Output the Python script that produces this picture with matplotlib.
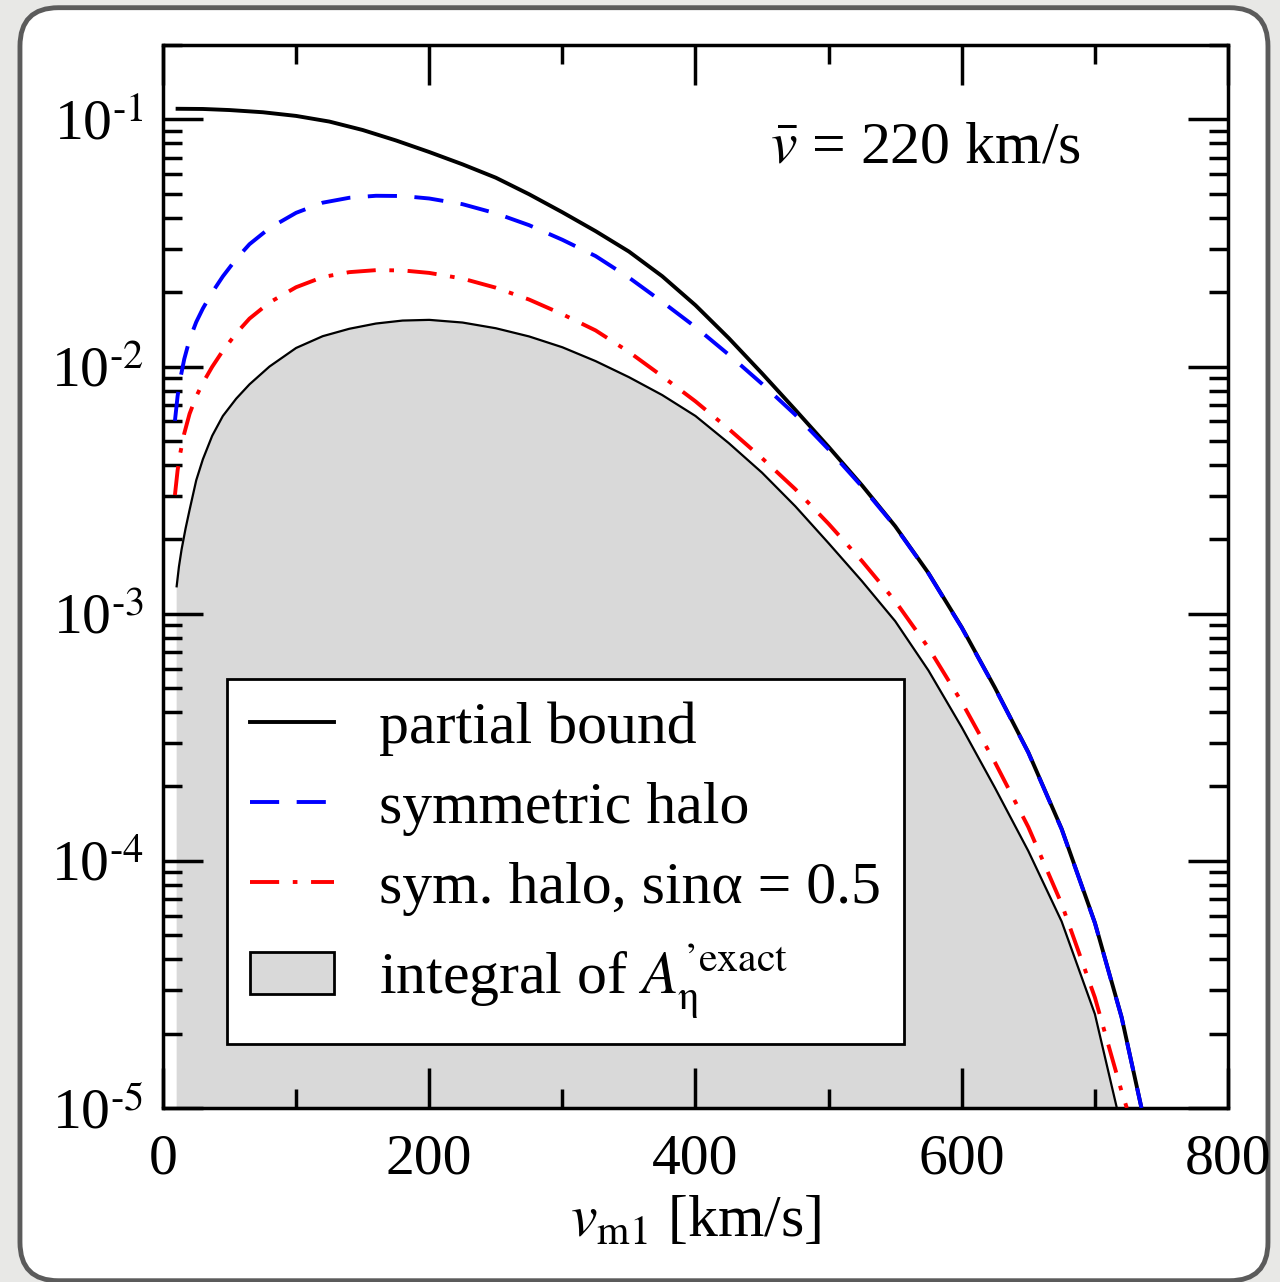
import math
import matplotlib
matplotlib.use("Agg")
import matplotlib.pyplot as plt
from matplotlib.patches import FancyBboxPatch, Patch
from matplotlib.lines import Line2D
from matplotlib.ticker import LogLocator, MultipleLocator, FuncFormatter, NullFormatter

plt.rcParams['font.family'] = ['Liberation Serif', 'DejaVu Serif']
plt.rcParams['mathtext.fontset'] = 'stix'

# --- data (v in km/s) ---
v_partial = [11, 30, 50, 75, 100, 125, 150, 175, 200, 225, 250, 275, 300, 325, 350, 375, 400, 425,
             450, 475, 500, 525, 550, 575, 600, 625, 650, 675, 700, 720, 735]
y_partial = [0.1104, 0.1102, 0.1091, 0.1069, 0.1033, 0.0980, 0.0906, 0.0822, 0.0738, 0.0658, 0.0581,
             0.0498, 0.0421, 0.0353, 0.0292, 0.0232, 0.0177, 0.01303, 0.00938, 0.00668, 0.00473,
             0.00331, 0.00226, 0.00146, 8.81e-4, 5.01e-4, 2.75e-4, 1.349e-4, 5.62e-5, 2.34e-5, 1.0e-5]

v_sym = [9, 11, 13, 16, 20, 25, 30, 37, 45, 55, 65, 80, 100, 120, 140, 160, 180, 200, 225, 250, 275,
         300, 325, 350, 375, 400, 425, 450, 475, 500, 525, 550, 575, 600, 625, 650, 675, 700, 720, 735]
y_sym = [0.00603, 0.00759, 0.00891, 0.01072, 0.01288, 0.01514, 0.01718, 0.01995, 0.02317, 0.02723,
         0.03126, 0.03631, 0.04188, 0.04603, 0.04819, 0.04909, 0.04898, 0.04786, 0.04539, 0.04169,
         0.03733, 0.03258, 0.02799, 0.02291, 0.01828, 0.01445, 0.01117, 0.00851, 0.00638, 0.00462,
         0.00327, 0.00225, 0.001455, 8.77e-4, 4.99e-4, 2.74e-4, 1.343e-4, 5.60e-5, 2.33e-5, 1.0e-5]

v_alpha = [9, 11, 13, 16, 20, 25, 30, 37, 45, 55, 65, 80, 100, 120, 140, 160, 180, 200, 225, 250, 275,
           300, 325, 350, 375, 400, 425, 450, 475, 500, 525, 550, 575, 600, 625, 650, 675, 700, 720, 724]
y_alpha = [0.00302, 0.0038, 0.00446, 0.00536, 0.00644, 0.00757, 0.00859, 0.00998, 0.01159, 0.01362,
           0.01563, 0.01816, 0.02094, 0.02302, 0.0241, 0.02455, 0.02449, 0.02393, 0.0227, 0.02085,
           0.01867, 0.01629, 0.0140, 0.01146, 0.00914, 0.00723, 0.00559, 0.00426, 0.00319, 0.00231,
           0.001635, 0.001125, 7.28e-4, 4.39e-4, 2.5e-4, 1.37e-4, 6.7e-5, 2.8e-5, 1.17e-5, 1.0e-5]

v_exact = [10.3, 12, 14, 17, 20, 25, 30, 37, 45, 55, 65, 80, 100, 120, 140, 160, 180, 200, 225, 250,
           275, 300, 325, 350, 375, 400, 425, 450, 475, 500, 525, 550, 575, 600, 625, 650, 675, 700, 716.5]
y_exact = [0.001291, 0.001549, 0.00182, 0.002213, 0.00263, 0.003467, 0.004217, 0.005248, 0.00631,
           0.007413, 0.008472, 0.0100, 0.01189, 0.01327, 0.01422, 0.01493, 0.01535, 0.01545, 0.01507,
           0.01429, 0.01324, 0.01197, 0.01052, 0.00906, 0.00767, 0.00631, 0.0049, 0.00372, 0.00272,
           0.001928, 0.001355, 9.33e-4, 5.89e-4, 3.47e-4, 1.972e-4, 1.096e-4, 5.69e-5, 2.4e-5, 1.0e-5]

labels = ['partial bound', 'symmetric halo', 'sym. halo, sinα = 0.5',
          r'integral of $A_{\mathrm{\eta}}^{\mathrm{’exact}}$']

FS = 43
TICK_FS = 41.5
LW = 2.8
FILL = '#d9d9d9'

fig = plt.figure(figsize=(12.8, 12.82), dpi=100)
fig.patch.set_facecolor('#e8e8e6')
frame = FancyBboxPatch((0.0156, 0.001), 0.975, 0.993,
                       boxstyle='round,pad=0,rounding_size=0.03',
                       transform=fig.transFigure, facecolor='white',
                       edgecolor='#5b5b5b', lw=3.5, zorder=-5)
fig.add_artist(frame)

ax = fig.add_axes([0.1273, 0.1357, 0.8321, 0.8292])
ax.set_facecolor('none')
ax.set_yscale('log')
ax.set_xlim(0, 800)
ax.set_ylim(1e-5, 0.2)

ax.fill_between(v_exact, y_exact, 1e-7, color=FILL, lw=0, zorder=1)
ax.plot(v_exact, y_exact, color='k', lw=1.6, zorder=2)
ax.plot(v_partial, y_partial, color='k', lw=LW, zorder=3)
ax.plot(v_sym, y_sym, color='blue', lw=LW, dashes=(7.5, 4.5), zorder=4)
ax.plot(v_alpha, y_alpha, color='red', lw=LW, dashes=(7.5, 3.5, 1.2, 3.5), zorder=4)

# ticks
ax.xaxis.set_major_locator(MultipleLocator(200))
ax.xaxis.set_minor_locator(MultipleLocator(100))
ax.yaxis.set_major_locator(LogLocator(base=10, numticks=10))
ax.yaxis.set_minor_locator(LogLocator(base=10, subs=range(2, 10), numticks=20))
ax.yaxis.set_minor_formatter(NullFormatter())
ax.yaxis.set_major_formatter(FuncFormatter(
    lambda y, pos: r'$\mathregular{10^{\text{-%d}}}$' % round(-math.log10(y))))
ax.tick_params(which='both', direction='in', top=True, right=True, width=2.5, labelsize=TICK_FS)
ax.tick_params(which='major', length=29, pad=14)
ax.tick_params(which='minor', length=14)
ax.tick_params(axis='x', which='major', pad=18)
for s in ax.spines.values():
    s.set_linewidth(2.5)

ax.set_xlabel(r'$v_{\mathrm{m1}}$ [km/s]', fontsize=FS, labelpad=8)

ax.text(689, 0.067, r'$\bar{v}$ = 220 km/s', ha='right', va='baseline', fontsize=FS)

handles = [Line2D([], [], color='k', lw=LW),
           Line2D([], [], color='blue', lw=LW, dashes=(7.5, 4.5)),
           Line2D([], [], color='red', lw=LW, dashes=(7.5, 3.5, 1.2, 3.5)),
           Patch(facecolor=FILL, edgecolor='k', lw=2)]
leg = ax.legend(handles, labels, loc='lower left', bbox_to_anchor=(0.0601, 0.0602),
                borderaxespad=0, fontsize=FS, frameon=True, fancybox=False, edgecolor='k',
                framealpha=1, handlelength=1.42, handletextpad=0.75, labelspacing=0.42,
                borderpad=0.38)
leg.get_frame().set_linewidth(2)

fig.savefig('out.png', dpi=100, facecolor=fig.get_facecolor())
